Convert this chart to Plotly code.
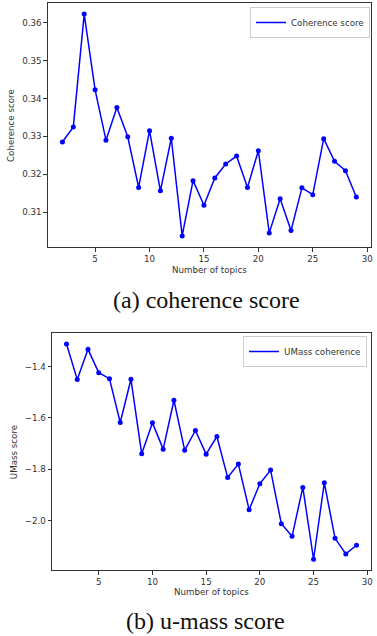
import plotly.graph_objects as go

topics = list(range(2, 30))
coherence = [0.3285, 0.3325, 0.3623, 0.3423, 0.3290, 0.3376, 0.3299, 0.3165,
             0.3315, 0.3156, 0.3295, 0.3037, 0.3183, 0.3118, 0.3190, 0.3227,
             0.3248, 0.3165, 0.3262, 0.3045, 0.3135, 0.3051, 0.3164, 0.3146,
             0.3294, 0.3234, 0.3209, 0.3140]
umass = [-1.312, -1.4505, -1.3326, -1.4233, -1.4467, -1.6177, -1.4492, -1.7395,
         -1.619, -1.7214, -1.5309, -1.7253, -1.6488, -1.7408, -1.6721, -1.8315,
         -1.7797, -1.9572, -1.8561, -1.803, -2.0116, -2.0609, -1.8704, -2.1503,
         -1.8523, -2.0687, -2.1296, -2.0959]

x_ticks = [5, 10, 15, 20, 25, 30]
coh_ticks = [0.31, 0.32, 0.33, 0.34, 0.35, 0.36]
coh_ticktext = ["0.31", "0.32", "0.33", "0.34", "0.35", "0.36"]
um_ticks = [-2.0, -1.8, -1.6, -1.4]
um_ticktext = ["\u22122.0", "\u22121.8", "\u22121.6", "\u22121.4"]

W, H = 377, 636
TICKFONT = dict(family="DejaVu Sans", size=8.7, color="#333")
LINE = "#333"

fig = go.Figure()
fig.add_trace(go.Scatter(x=topics, y=coherence, mode="lines+markers",
                         line=dict(color="blue", width=1.5),
                         marker=dict(color="blue", size=5),
                         showlegend=False, xaxis="x", yaxis="y"))
fig.add_trace(go.Scatter(x=[None], y=[None], mode="lines", name="Coherence score",
                         line=dict(color="blue", width=1.5),
                         legend="legend", xaxis="x", yaxis="y"))
fig.add_trace(go.Scatter(x=topics, y=umass, mode="lines+markers",
                         line=dict(color="blue", width=1.5),
                         marker=dict(color="blue", size=5),
                         showlegend=False, xaxis="x2", yaxis="y2"))
fig.add_trace(go.Scatter(x=[None], y=[None], mode="lines", name="UMass coherence",
                         line=dict(color="blue", width=1.5),
                         legend="legend2", xaxis="x2", yaxis="y2"))


def px_x(v):
    return v / W


def px_y(v):
    return 1 - v / H


def xr(vals):
    lo, hi = min(vals), max(vals)
    m = (hi - lo) * 0.05
    return [lo - m, hi + m]


axis_common = dict(showline=True, mirror=True, linecolor=LINE, linewidth=1,
                   ticks="outside", ticklen=3.5, tickwidth=0.8, tickcolor=LINE,
                   showgrid=False, zeroline=False, tickfont=TICKFONT)

legend_common = dict(xanchor="right", yanchor="top",
                     bordercolor="#ccc", borderwidth=1, bgcolor="white",
                     font=dict(family="DejaVu Sans", size=8.7, color="#333"),
                     itemwidth=30, tracegroupgap=0)

fig.update_layout(
    width=W, height=H, autosize=False,
    margin=dict(l=0, r=0, t=0, b=0),
    paper_bgcolor="white", plot_bgcolor="white",
    xaxis=dict(domain=[px_x(48), px_x(373)], range=xr(topics), anchor="y",
               tickvals=x_ticks, **axis_common),
    yaxis=dict(domain=[px_y(247), px_y(3)], range=xr(coherence), anchor="x",
               tickvals=coh_ticks, ticktext=coh_ticktext, **axis_common),
    xaxis2=dict(domain=[px_x(52.3), px_x(373)], range=xr(topics), anchor="y2",
                tickvals=x_ticks, **axis_common),
    yaxis2=dict(domain=[px_y(570), px_y(333.3)], range=xr(umass), anchor="x2",
                tickvals=um_ticks, ticktext=um_ticktext, **axis_common),
    legend=dict(x=px_x(372), y=px_y(7), **legend_common),
    legend2=dict(x=px_x(369), y=px_y(336), **legend_common),
)

ann_font = dict(family="DejaVu Sans", size=8.7, color="#333")
axis_titles = [
    ("Coherence score", 11, 125, -90),
    ("Number of topics", 211, 270, 0),
    ("UMass score", 14.3, 452, -90),
    ("Number of topics", 213, 592, 0),
]
for text, ax, ay, ang in axis_titles:
    fig.add_annotation(xref="paper", yref="paper", showarrow=False,
                       xanchor="center", yanchor="middle", font=ann_font,
                       textangle=ang, text=text, x=px_x(ax), y=px_y(ay))

cap_font = dict(family="Liberation Serif", size=24, color="#111")
fig.add_annotation(xref="paper", yref="paper", showarrow=False, xanchor="center",
                   yanchor="middle", font=cap_font, text="(a) coherence score",
                   x=px_x(207.5), y=px_y(300))
fig.add_annotation(xref="paper", yref="paper", showarrow=False, xanchor="center",
                   yanchor="middle", font=cap_font, text="(b) u-mass score",
                   x=px_x(207), y=px_y(621))

fig.write_html("out.html",
               config={"displayModeBar": False},
               post_script="document.body.style.margin='0px';"
                           "document.body.style.overflow='hidden';")
